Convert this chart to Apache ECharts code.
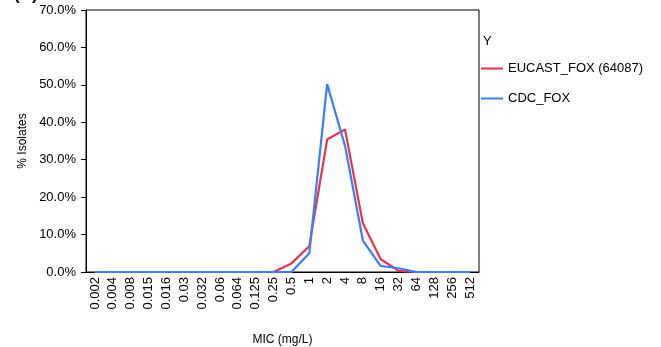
<!DOCTYPE html>
<html>
<head>
<meta charset="utf-8">
<script src="https://cdn.jsdelivr.net/npm/echarts@6/dist/echarts.min.js"></script>
<style>
html,body{margin:0;padding:0;background:#fff;}
#chart{width:661px;height:347px;}
</style>
</head>
<body>
<div id="chart"></div>
<script>
const categories = ['0.002','0.004','0.008','0.015','0.016','0.03','0.032','0.06','0.064','0.125','0.25','0.5','1','2','4','8','16','32','64','128','256','512'];
const eucastFox = [0,0,0,0,0,0,0,0,0,0,0,2.3,6.9,35.4,38.1,13.0,3.4,0.3,0,0,0,0];
const cdcFox    = [0,0,0,0,0,0,0,0,0,0,0,0,5.0,50.2,33.7,8.4,1.6,1.0,0,0,0,0];
const yTicks = [0,10,20,30,40,50,60,70];

const chart = echarts.init(document.getElementById('chart'), null, {renderer:'canvas'});
const font = 'Liberation Sans, Arial, sans-serif';
chart.setOption({
  animation:false,
  textStyle:{fontFamily:font},
  grid:{left:86,right:182,top:10,bottom:75,show:true,borderColor:'#000',borderWidth:1,
        containLabel:false,outerBoundsMode:'none'},
  legend:{
    orient:'vertical', left:481, top:62, padding:0, itemWidth:22, itemHeight:2, itemGap:17, icon:'rect',
    textStyle:{fontFamily:font,fontSize:13,color:'#000'},
    data:['EUCAST_FOX (64087)','CDC_FOX']
  },
  graphic:[
    {type:'text',left:483,top:35,style:{text:'Y',font:'13px '+font,fill:'#000'}},
    {type:'text',left:14,top:-13,style:{text:'(A)',font:'bold 17px '+font,fill:'#000'}}
  ],
  xAxis:{
    type:'category', data:categories, boundaryGap:true,
    name:'MIC (mg/L)', nameLocation:'middle', nameGap:62,
    nameTextStyle:{fontFamily:font,fontSize:12,color:'#000'},
    axisLine:{lineStyle:{color:'#000',width:1}},
    axisTick:{show:false},
    axisLabel:{rotate:90,fontFamily:font,fontSize:13,color:'#000',margin:5,interval:0}
  },
  yAxis:{
    type:'value', min:yTicks[0], max:yTicks[yTicks.length-1], interval:10,
    name:'% Isolates', nameLocation:'middle', nameGap:49,
    nameTextStyle:{fontFamily:font,fontSize:12,color:'#000'},
    axisLine:{show:true,lineStyle:{color:'#000',width:1}},
    axisTick:{show:true,length:5,lineStyle:{color:'#000'}},
    splitLine:{show:false},
    axisLabel:{fontFamily:font,fontSize:13,color:'#000',margin:10,formatter:v=>v.toFixed(1)+'%'}
  },
  series:[
    {name:'EUCAST_FOX (64087)',type:'line',data:eucastFox,symbol:'none',
     lineStyle:{color:'#e8334f',width:2.2},itemStyle:{color:'#e8334f'},z:2},
    {name:'CDC_FOX',type:'line',data:cdcFox,symbol:'none',
     lineStyle:{color:'#3b7ff2',width:2.2},itemStyle:{color:'#3b7ff2'},z:3}
  ]
});
</script>
</body>
</html>
